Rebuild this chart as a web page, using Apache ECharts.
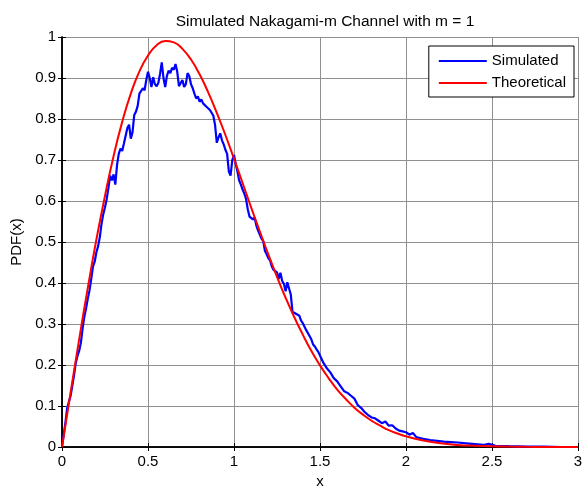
<!DOCTYPE html>
<html>
<head>
<meta charset="utf-8">
<script src="https://cdn.jsdelivr.net/npm/echarts@6/dist/echarts.min.js"></script>
<style>
  html, body { margin: 0; padding: 0; background: #fff; }
  #chart { width: 587px; height: 488px; }
</style>
</head>
<body>
<div id="chart"></div>
<script>
// values
var theoX = [0, 0.05, 0.1, 0.15, 0.2, 0.25, 0.3, 0.35, 0.4, 0.45, 0.5, 0.55, 0.6, 0.65, 0.7, 0.75,
  0.8, 0.85, 0.9, 0.95, 1.0, 1.05, 1.1, 1.15, 1.2, 1.25, 1.3, 1.35, 1.4, 1.45, 1.5, 1.55, 1.6,
  1.65, 1.7, 1.75, 1.8, 1.85, 1.9, 1.95, 2.0, 2.1, 2.2, 2.3, 2.4, 2.5, 2.6, 2.7, 2.8, 2.9, 3.0];
var theoY = [0, 0.133, 0.263, 0.388, 0.506, 0.613, 0.710, 0.793, 0.862, 0.916, 0.955, 0.980, 0.990,
  0.987, 0.971, 0.945, 0.909, 0.865, 0.815, 0.761, 0.703, 0.644, 0.584, 0.526, 0.469, 0.415,
  0.364, 0.317, 0.274, 0.234, 0.199, 0.168, 0.140, 0.117, 0.096, 0.079, 0.064, 0.052, 0.041,
  0.033, 0.026, 0.016, 0.009, 0.005, 0.003, 0.002, 0.001, 0.0004, 0.0002, 0.0001, 0];

var simX = [0, 0.01, 0.02, 0.03, 0.04, 0.05, 0.06, 0.07, 0.08, 0.09, 0.1, 0.11, 0.12, 0.13, 0.14,
  0.15, 0.16, 0.17, 0.18, 0.19, 0.2, 0.21, 0.22, 0.23, 0.24, 0.25, 0.26, 0.27, 0.28, 0.29, 0.3,
  0.31, 0.32, 0.33, 0.34, 0.35, 0.36, 0.37, 0.38, 0.39, 0.4, 0.41, 0.42, 0.43, 0.44, 0.45, 0.46,
  0.47, 0.48, 0.49, 0.5, 0.51, 0.52, 0.53, 0.54, 0.55, 0.56, 0.57, 0.58, 0.59, 0.6, 0.61, 0.62,
  0.63, 0.64, 0.65, 0.66, 0.67, 0.68, 0.69, 0.7, 0.71, 0.72, 0.73, 0.74, 0.75, 0.76, 0.77, 0.78,
  0.79, 0.8, 0.81, 0.82, 0.83, 0.84, 0.85, 0.86, 0.87, 0.88, 0.89, 0.9, 0.91, 0.92, 0.93, 0.94,
  0.95, 0.96, 0.97, 0.98, 0.99, 1.0, 1.01, 1.02, 1.03, 1.04, 1.05, 1.06, 1.07, 1.08, 1.09, 1.1,
  1.11, 1.12, 1.13, 1.14, 1.15, 1.16, 1.17, 1.18, 1.19, 1.2, 1.21, 1.22, 1.23, 1.24, 1.25, 1.26,
  1.27, 1.28, 1.29, 1.3, 1.31, 1.32, 1.33, 1.34, 1.35, 1.36, 1.37, 1.38, 1.39, 1.4, 1.41, 1.42,
  1.43, 1.44, 1.45, 1.46, 1.47, 1.48, 1.49, 1.5, 1.52, 1.54, 1.56, 1.58, 1.6, 1.62, 1.64, 1.66,
  1.68, 1.7, 1.72, 1.74, 1.76, 1.78, 1.8, 1.82, 1.84, 1.86, 1.88, 1.9, 1.92, 1.94, 1.96, 1.98,
  2.0, 2.02, 2.04, 2.06, 2.08, 2.1, 2.14, 2.18, 2.22, 2.26, 2.3, 2.35, 2.4, 2.45, 2.48, 2.52,
  2.6, 2.7, 2.8, 2.9, 3.0];
var simY = [0, 0.030, 0.060, 0.095, 0.110, 0.125, 0.150, 0.175, 0.205, 0.222, 0.235, 0.255, 0.290,
  0.318, 0.338, 0.362, 0.382, 0.410, 0.440, 0.452, 0.475, 0.490, 0.512, 0.545, 0.568, 0.585,
  0.605, 0.632, 0.662, 0.650, 0.665, 0.640, 0.688, 0.715, 0.728, 0.722, 0.740, 0.738, 0.778,
  0.786, 0.752, 0.768, 0.810, 0.818, 0.832, 0.862, 0.858, 0.875, 0.870, 0.895, 0.915, 0.900,
  0.878, 0.902, 0.885, 0.880, 0.888, 0.910, 0.938, 0.900, 0.878, 0.905, 0.918, 0.912, 0.925,
  0.920, 0.934, 0.915, 0.880, 0.882, 0.895, 0.878, 0.885, 0.912, 0.905, 0.885, 0.875, 0.862,
  0.850, 0.855, 0.842, 0.848, 0.838, 0.842, 0.830, 0.828, 0.822, 0.818, 0.808, 0.785, 0.742,
  0.755, 0.765, 0.748, 0.738, 0.725, 0.715, 0.672, 0.662, 0.700, 0.712, 0.690, 0.672, 0.650,
  0.640, 0.628, 0.618, 0.605, 0.580, 0.562, 0.565, 0.555, 0.560, 0.540, 0.528, 0.518, 0.508,
  0.502, 0.478, 0.470, 0.460, 0.455, 0.440, 0.432, 0.428, 0.426, 0.410, 0.425, 0.405, 0.398,
  0.380, 0.402, 0.405, 0.372, 0.330, 0.328, 0.325, 0.322, 0.320, 0.308, 0.302, 0.298, 0.285,
  0.282, 0.270, 0.262, 0.250, 0.245, 0.238, 0.232, 0.228, 0.205, 0.192, 0.182, 0.168, 0.160,
  0.148, 0.136, 0.132, 0.125, 0.118, 0.102, 0.095, 0.085, 0.078, 0.072, 0.070, 0.064, 0.058,
  0.062, 0.052, 0.053, 0.045, 0.040, 0.038, 0.036, 0.030, 0.034, 0.024, 0.022, 0.020, 0.017,
  0.015, 0.013, 0.012, 0.011, 0.009, 0.007, 0.005, 0.008, 0.003, 0.002, 0.001, 0.001, 0, 0];

var font = "Liberation Sans, Arial, sans-serif";

function pairs(xs, ys) {
  return xs.map(function (x, i) { return [x, ys[i]]; });
}

var chart = echarts.init(document.getElementById("chart"), null, { renderer: "canvas" });

// hidden axes on top/right only carry the inner ticks of the box
var boxAxis = {
  axisLine: { show: true, lineStyle: { color: "#000", width: 1.5 } },
  axisTick: { show: true, inside: true, length: 4, lineStyle: { color: "#000" } },
  axisLabel: { show: false },
  splitLine: { show: false }
};

var option = {
  backgroundColor: "#fff",
  animation: false,
  title: {
    text: "Simulated Nakagami-m Channel with m = 1",
    left: 320,
    top: 9,
    textAlign: "center",
    textStyle: { fontFamily: font, fontSize: 15.5, fontWeight: "normal", color: "#000" }
  },
  grid: { left: 62, right: 9, top: 37, bottom: 41, outerBoundsMode: "none" },
  legend: {
    orient: "vertical",
    right: 13,
    top: 46,
    width: 145,
    padding: [6, 8, 5, 10],
    itemGap: 4,
    itemWidth: 48,
    itemHeight: 2,
    icon: "rect",
    backgroundColor: "#fff",
    borderColor: "#000",
    borderWidth: 1,
    borderRadius: 0,
    textStyle: { fontFamily: font, fontSize: 15, color: "#000", lineHeight: 18 },
    data: [
      { name: "Simulated", itemStyle: { color: "#0000ff" } },
      { name: "Theoretical", itemStyle: { color: "#ff0000" } }
    ]
  },
  xAxis: [
    {
      type: "value",
      min: 0,
      max: 3,
      interval: 0.5,
      name: "x",
      nameLocation: "middle",
      nameGap: 25,
      nameTextStyle: { fontFamily: font, fontSize: 15, color: "#000" },
      axisLine: { show: true, lineStyle: { color: "#000", width: 1.5 } },
      axisTick: { show: true, inside: true, length: 4, lineStyle: { color: "#000" } },
      axisLabel: { fontFamily: font, fontSize: 15, color: "#000", margin: 7 },
      splitLine: { show: true, lineStyle: { color: "#8f8f8f", width: 1 } }
    },
    Object.assign({ type: "value", position: "top", min: 0, max: 3, interval: 0.5 }, boxAxis)
  ],
  yAxis: [
    {
      type: "value",
      min: 0,
      max: 1,
      interval: 0.1,
      name: "PDF(x)",
      nameLocation: "middle",
      nameGap: 36,
      nameTextStyle: { fontFamily: font, fontSize: 15, color: "#000" },
      axisLine: { show: true, lineStyle: { color: "#000", width: 1.5 } },
      axisTick: { show: true, inside: true, length: 4, lineStyle: { color: "#000" } },
      axisLabel: {
        fontFamily: font, fontSize: 15, color: "#000", margin: 6,
        formatter: function (v) { return String(Math.round(v * 10) / 10); }
      },
      splitLine: { show: true, lineStyle: { color: "#8f8f8f", width: 1 } }
    },
    Object.assign({ type: "value", position: "right", min: 0, max: 1, interval: 0.1 }, boxAxis)
  ],
  series: [
    {
      name: "Simulated",
      type: "line",
      data: pairs(simX, simY),
      showSymbol: false,
      lineStyle: { color: "#0000ff", width: 2.2 },
      itemStyle: { color: "#0000ff" },
      z: 2
    },
    {
      name: "Theoretical",
      type: "line",
      data: pairs(theoX, theoY),
      smooth: true,
      showSymbol: false,
      lineStyle: { color: "#ff0000", width: 2 },
      itemStyle: { color: "#ff0000" },
      z: 3
    }
  ]
};

chart.setOption(option);
</script>
</body>
</html>
